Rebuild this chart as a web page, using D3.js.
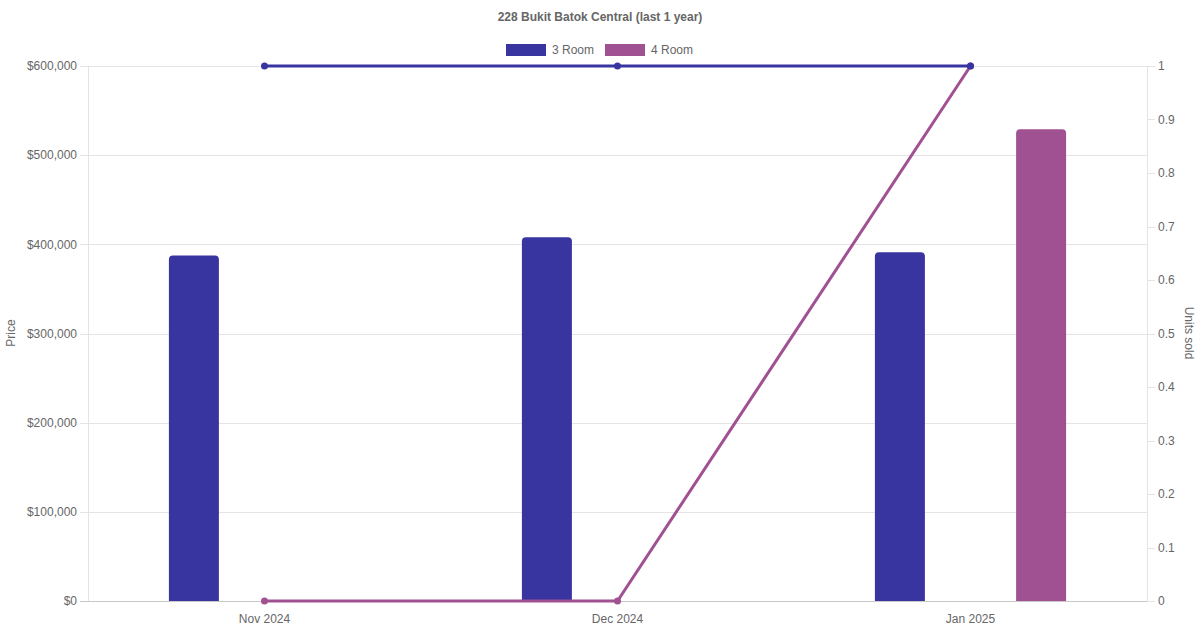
<!DOCTYPE html>
<html>
<head>
<meta charset="utf-8">
<script src="https://cdn.jsdelivr.net/npm/d3@7"></script>
<style>
  body { margin: 0; background: #fff; }
  text { font-family: "Liberation Sans", Arial, Helvetica, sans-serif; fill: #666; }
</style>
</head>
<body>
<svg id="chart" width="1200" height="630"></svg>
<script>
// Chart data
const months = ['Nov 2024', 'Dec 2024', 'Jan 2025'];
const seriesNames = ['3 Room', '4 Room'];
const seriesColors = ['#3935a0', '#a05192'];
const price3Room = [387500, 408000, 391000];
const price4Room = [0, 0, 529000];
const units3Room = [1, 1, 1];
const units4Room = [0, 0, 1];
const priceTicks = [0, 100000, 200000, 300000, 400000, 500000, 600000];
const unitTicks = [0, 0.1, 0.2, 0.3, 0.4, 0.5, 0.6, 0.7, 0.8, 0.9, 1];

const svg = d3.select('#chart');
const margin = { left: 88, right: 53, top: 66, bottom: 29 };
const width = 1200 - margin.left - margin.right;
const height = 630 - margin.top - margin.bottom;

const chart = svg.append('g')
  .attr('transform', `translate(${margin.left}, ${margin.top})`);

// Scales
const xScale = d3.scaleBand().domain(months).range([0, width]);
// bar slots cover the middle 80% of each month band
const xInner = d3.scaleBand().domain(seriesNames)
  .range([xScale.bandwidth() * 0.1, xScale.bandwidth() * 0.9]);
const barWidth = 50;

const yPrice = d3.scaleLinear().domain([0, 600000]).range([height, 0]);
const yUnits = d3.scaleLinear().domain([0, 1]).range([height, 0]);

// Grid lines
chart.append('g')
  .selectAll('line')
  .data(priceTicks)
  .join('line')
  .attr('x1', -8)
  .attr('x2', width)
  .attr('y1', d => Math.round(yPrice(d)) + 0.5)
  .attr('y2', d => Math.round(yPrice(d)) + 0.5)
  .style('stroke', (d, i) => i === 0 ? '#c8c8c8' : '#e4e4e4');

// Left axis line
chart.append('line')
  .attr('x1', 0.5).attr('x2', 0.5)
  .attr('y1', 0).attr('y2', height)
  .style('stroke', '#e4e4e4');

// Right axis line
chart.append('line')
  .attr('x1', width + 0.5).attr('x2', width + 0.5)
  .attr('y1', 0).attr('y2', height)
  .style('stroke', '#e4e4e4');

// Left axis labels
const fmt = d3.format(',');
chart.append('g')
  .selectAll('text')
  .data(priceTicks)
  .join('text')
  .attr('x', -11)
  .attr('y', d => yPrice(d))
  .attr('dy', '0.35em')
  .style('text-anchor', 'end')
  .style('font-size', '12px')
  .text(d => '$' + fmt(d));

// Right axis ticks and labels
const right = chart.append('g').attr('transform', `translate(${width}, 0)`);
right.selectAll('line')
  .data(unitTicks)
  .join('line')
  .attr('x1', 0).attr('x2', 8)
  .attr('y1', d => Math.round(yUnits(d)) + 0.5)
  .attr('y2', d => Math.round(yUnits(d)) + 0.5)
  .style('stroke', '#e4e4e4');
right.selectAll('text')
  .data(unitTicks)
  .join('text')
  .attr('x', 11)
  .attr('y', d => yUnits(d))
  .attr('dy', '0.35em')
  .style('font-size', '12px')
  .text(d => d3.format('~g')(d));

// X axis labels
chart.append('g')
  .selectAll('text')
  .data(months)
  .join('text')
  .attr('x', d => xScale(d) + xScale.bandwidth() / 2)
  .attr('y', height + 18)
  .attr('dy', '0.35em')
  .style('text-anchor', 'middle')
  .style('font-size', '12px')
  .text(d => d);

// Bars
const priceSeries = [price3Room, price4Room];
priceSeries.forEach((vals, s) => {
  chart.append('g')
    .selectAll('path')
    .data(vals.map((v, i) => ({ month: months[i], value: v })).filter(d => d.value > 0))
    .join('path')
    .attr('d', d => {
      const cx = xScale(d.month) + xInner(seriesNames[s]) + xInner.bandwidth() / 2;
      const x0 = cx - barWidth / 2;
      const x1 = cx + barWidth / 2;
      const y0 = yPrice(d.value);
      const y1 = yPrice(0);
      const r = 4;
      return `M${x0},${y1}V${y0 + r}Q${x0},${y0} ${x0 + r},${y0}H${x1 - r}Q${x1},${y0} ${x1},${y0 + r}V${y1}Z`;
    })
    .style('fill', seriesColors[s]);
});

// Lines (4 Room first so 3 Room sits on top)
const unitSeries = [units3Room, units4Room];
const line = d3.line()
  .x((d, i) => xScale(months[i]) + xScale.bandwidth() / 2)
  .y(d => yUnits(d));

[1, 0].forEach(s => {
  const vals = unitSeries[s];
  chart.append('path')
    .datum(vals)
    .attr('d', line)
    .style('fill', 'none')
    .style('stroke', seriesColors[s])
    .style('stroke-width', 3);
  chart.append('g')
    .selectAll('circle')
    .data(vals)
    .join('circle')
    .attr('cx', (d, i) => xScale(months[i]) + xScale.bandwidth() / 2)
    .attr('cy', d => yUnits(d))
    .attr('r', 3.5)
    .style('fill', seriesColors[s]);
});

// Axis titles
svg.append('text')
  .attr('transform', 'translate(15, 333) rotate(-90)')
  .style('text-anchor', 'middle')
  .style('font-size', '12px')
  .text('Price');

svg.append('text')
  .attr('transform', 'translate(1185, 333) rotate(90)')
  .style('text-anchor', 'middle')
  .style('font-size', '12px')
  .text('Units sold');

// Title
svg.append('text')
  .attr('x', 600)
  .attr('y', 17)
  .attr('dy', '0.35em')
  .style('text-anchor', 'middle')
  .style('font-size', '12px')
  .style('font-weight', 'bold')
  .text('228 Bukit Batok Central (last 1 year)');

// Legend
const legend = svg.append('g');
const legendX = [506, 605];
seriesNames.forEach((name, i) => {
  legend.append('rect')
    .attr('x', legendX[i])
    .attr('y', 44)
    .attr('width', 40)
    .attr('height', 12)
    .style('fill', seriesColors[i]);
  legend.append('text')
    .attr('x', legendX[i] + 46)
    .attr('y', 50)
    .attr('dy', '0.35em')
    .style('font-size', '12px')
    .text(name);
});
</script>
</body>
</html>
